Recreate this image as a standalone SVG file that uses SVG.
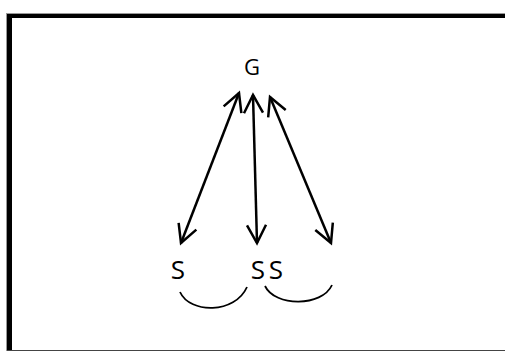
<svg xmlns="http://www.w3.org/2000/svg" width="505" height="352" viewBox="0 0 505 352">
<style>
.lbl{font-family:"Open Sans","Noto Sans","Liberation Sans",sans-serif;fill:#000;text-anchor:middle}
.ln{stroke:#000;stroke-width:2.5;fill:none}
.arc{stroke:#000;stroke-width:1.8;fill:none}
</style>
<defs>
<marker id="ah" markerUnits="userSpaceOnUse" viewBox="-22 -12 26 24" refX="0" refY="0" markerWidth="26" markerHeight="24" orient="auto-start-reverse">
<path d="M-18,-9.5 L0,0 L-18,9.5" fill="none" stroke="#000" stroke-width="2.5"/>
</marker>
</defs>
<rect x="0" y="0" width="505" height="352" fill="#fff"/>
<g id="frame">
<rect x="7" y="14" width="5" height="337" fill="#000"/>
<rect x="7" y="14" width="498" height="4" fill="#000"/>
<rect x="6" y="13" width="1" height="338" fill="#999"/>
<rect x="6" y="13" width="499" height="1" fill="#999"/>
<rect x="7" y="350" width="498" height="1" fill="#444"/>
</g>
<g id="G"><text class="lbl" x="252" y="75" font-size="22">G</text></g>
<g id="S1"><text class="lbl" x="178" y="279" font-size="26">S</text></g>
<g id="S2"><text class="lbl" x="258" y="279" font-size="26">S</text></g>
<g id="S3"><text class="lbl" x="276" y="279" font-size="26">S</text></g>
<g id="connectors">
<line class="ln" x1="181" y1="243" x2="239" y2="93" marker-start="url(#ah)" marker-end="url(#ah)"/>
<line class="ln" x1="257" y1="243" x2="253" y2="95" marker-start="url(#ah)" marker-end="url(#ah)"/>
<line class="ln" x1="331" y1="243" x2="270" y2="97" marker-start="url(#ah)" marker-end="url(#ah)"/>
<path class="arc" d="M180,292 C190,314 235,314 247,287"/>
<path class="arc" d="M265,286 C275,307 322,307 332,285"/>
</g>
</svg>
